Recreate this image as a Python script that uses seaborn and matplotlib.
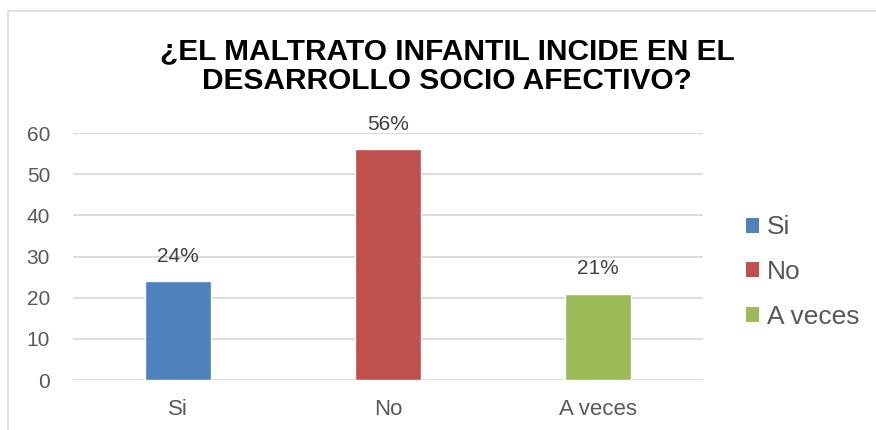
import matplotlib
matplotlib.use("Agg")
import matplotlib.pyplot as plt
import seaborn as sns
import pandas as pd
from matplotlib.patches import Rectangle, Patch

categories = ["Si", "No", "A veces"]
values = [24, 56, 21]
labels = ["24%", "56%", "21%"]
colors = ["#4F81BD", "#C0504D", "#9BBB59"]
yticks = [0, 10, 20, 30, 40, 50, 60]
title = "¿EL MALTRATO INFANTIL INCIDE EN EL\nDESARROLLO SOCIO AFECTIVO?"

sns.set_theme(style="white")
plt.rcParams['font.family'] = ['Liberation Sans', 'DejaVu Sans']

df = pd.DataFrame({"cat": categories, "val": values})

fig = plt.figure(figsize=(8.76, 4.30), dpi=100)
ax = fig.add_axes([73/876, 1-380/430, 630/876, 247/430])

sns.barplot(data=df, x="cat", y="val", hue="cat", palette=colors,
            width=0.314, ax=ax, legend=False, saturation=1)

ax.set_ylim(0, 60)
ax.set_xlim(-0.5, 2.5)
ax.set_yticks(yticks)
ax.set_yticklabels([str(t) for t in yticks])
ax.yaxis.grid(True, color="#D9D9D9", linewidth=1.3)
ax.set_axisbelow(True)
for s in ax.spines.values():
    s.set_visible(False)
ax.tick_params(axis="both", length=0, colors="#595959")
ax.tick_params(axis="y", pad=16.5, labelsize=15)
ax.tick_params(axis="x", pad=14, labelsize=16)
ax.set_xlabel("")
ax.set_ylabel("")

for i, (v, lab) in enumerate(zip(values, labels)):
    ax.annotate(lab, (i, v), xytext=(0, 18), textcoords="offset points",
                ha="center", va="center", fontsize=15, color="#404040")

fig.text(447/876, 1-66/430, title, ha="center", va="center",
         fontsize=21.5, fontweight="bold", color="black", linespacing=1.08)

handles = [Patch(facecolor=c, edgecolor="none") for c in colors]
fig.legend(handles, categories, loc="center left",
           bbox_to_anchor=(722/876, 1-272/430), frameon=False,
           fontsize=19, handlelength=0.5, handleheight=0.5,
           handletextpad=0.3, labelspacing=0.78, labelcolor="#595959")

fig.patches.append(Rectangle((8/876, -0.1), 1.2, 1-11/430+0.1,
                             transform=fig.transFigure, fill=False,
                             edgecolor="#D9D9D9", linewidth=1.2))

fig.savefig("out.png", dpi=100)
